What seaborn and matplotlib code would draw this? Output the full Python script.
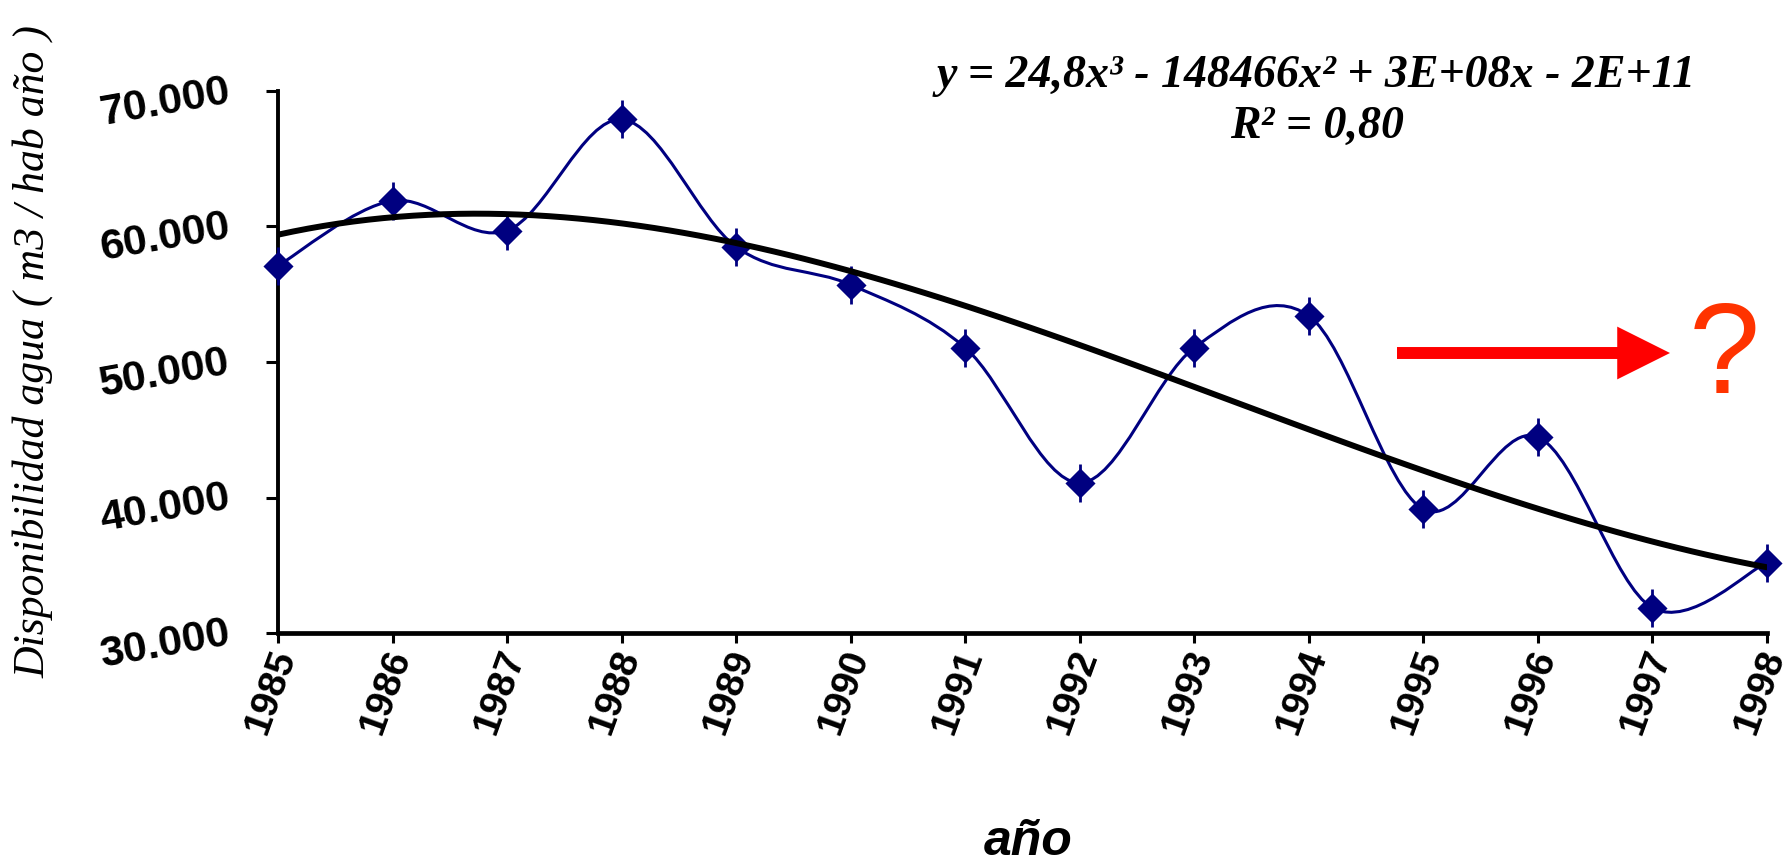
import numpy as np
import pandas as pd
import matplotlib
matplotlib.use("Agg")
import matplotlib.pyplot as plt
import matplotlib.transforms as mtransforms
from matplotlib.path import Path
from matplotlib.patches import PathPatch, FancyArrowPatch
import seaborn as sns

# ---------------- data ----------------
years = [1985, 1986, 1987, 1988, 1989, 1990, 1991, 1992, 1993, 1994, 1995, 1996, 1997, 1998]
disponibilidad = [57100, 61900, 59700, 67900, 58500, 55700, 51050, 41080,
                  51050, 53400, 39130, 44460, 31860, 35200]
yticks = [30000, 40000, 50000, 60000, 70000]
ytick_labels = ["30.000", "40.000", "50.000", "60.000", "70.000"]
xtick_labels = [str(y) for y in years]
equation_text = "y = 24,8x³ - 148466x² + 3E+08x - 2E+11"
r2_text = "R² = 0,80"
ylabel_text = "Disponibilidad agua ( m3 / hab año )"
xlabel_text = "año"

df = pd.DataFrame({"pos": np.arange(len(years)), "valor": disponibilidad})

# ---------------- style ----------------
sns.set_style("white")
plt.rcParams["font.family"] = ["Liberation Sans", "DejaVu Sans"]
plt.rcParams["text.color"] = "black"
plt.rcParams["axes.labelcolor"] = "black"
plt.rcParams["xtick.color"] = "black"
plt.rcParams["ytick.color"] = "black"

W, H = 1792, 865
fig = plt.figure(figsize=(W / 100, H / 100), dpi=100)
L, R, T, B = 278, 1767, 91, 633
ax = fig.add_axes([L / W, 1 - B / H, (R - L) / W, (B - T) / H])

NAVY = "#000080"

# smoothed line (Excel-style Catmull-Rom bezier through the points)
pts = np.column_stack([df["pos"].to_numpy(float), df["valor"].to_numpy(float)])
ext = np.vstack([pts[0], pts, pts[-1]])
verts = [tuple(pts[0])]
codes = [Path.MOVETO]
for i in range(len(pts) - 1):
    p0, p1, p2, p3 = ext[i], ext[i + 1], ext[i + 2], ext[i + 3]
    c1 = p1 + (p2 - p0) / 6.0
    c2 = p2 - (p3 - p1) / 6.0
    verts += [tuple(c1), tuple(c2), tuple(p2)]
    codes += [Path.CURVE4] * 3
ax.add_patch(PathPatch(Path(verts, codes), fill=False, edgecolor=NAVY, lw=2.2,
                       zorder=2, clip_on=False))

# markers
sns.scatterplot(data=df, x="pos", y="valor", marker="D", s=235, color=NAVY,
                edgecolor=NAVY, linewidth=0, zorder=3, ax=ax, clip_on=False, legend=False)
sns.scatterplot(data=df, x="pos", y="valor", marker="|", s=720, color=NAVY,
                linewidth=2.0, zorder=3, ax=ax, clip_on=False, legend=False)

# polynomial (order 3) trend line
sns.regplot(data=df, x="pos", y="valor", order=3, ci=None, scatter=False,
            truncate=True, ax=ax, line_kws=dict(color="black", lw=4.3, zorder=4))

# ---------------- axes ----------------
ax.set_xlim(0, len(years) - 1)
ax.set_ylim(yticks[0], yticks[-1])
for s in ["top", "right"]:
    ax.spines[s].set_visible(False)
ax.spines["left"].set_linewidth(2.8)
ax.spines["bottom"].set_linewidth(3.4)
ax.spines["left"].set_color("black")
ax.spines["bottom"].set_color("black")

ax.set_yticks(yticks)
ax.set_yticklabels(ytick_labels, rotation=10, ha="right", va="center",
                   rotation_mode="anchor", fontsize=31, fontweight="bold")
ax.set_xticks(df["pos"])
ax.set_xticklabels(xtick_labels, rotation=70, ha="right", va="center",
                   rotation_mode="anchor", fontsize=28, fontweight="bold")
ax.tick_params(axis="y", direction="out", length=9, width=2.2, pad=26, color="black",
               left=True)
ax.tick_params(axis="x", direction="out", length=7, width=2.2, pad=6, color="black",
               bottom=True)
offset = mtransforms.ScaledTranslation(8 / 100, 0, fig.dpi_scale_trans)
for lab in ax.get_xticklabels():
    lab.set_transform(lab.get_transform() + offset)

ax.set_xlabel(xlabel_text, fontsize=36, fontweight="bold", fontstyle="italic",
              va="baseline", ha="center")
ax.xaxis.set_label_coords((1028 - L) / (R - L), (B - 855) / (B - T))
ax.set_ylabel(ylabel_text, fontsize=31.5, fontstyle="italic",
              family=["Liberation Serif", "DejaVu Serif"], va="center", ha="center")
ax.yaxis.set_label_coords((33 - L) / (R - L), (B - 352) / (B - T))

# equation
ax.text((1316 - L) / (R - L), (B - 87) / (B - T), equation_text, transform=ax.transAxes,
        ha="center", va="baseline", fontsize=33, fontweight="bold", fontstyle="italic",
        family=["Liberation Serif", "DejaVu Serif"])
ax.text((1317 - L) / (R - L), (B - 138) / (B - T), r2_text, transform=ax.transAxes,
        ha="center", va="baseline", fontsize=33, fontweight="bold", fontstyle="italic",
        family=["Liberation Serif", "DejaVu Serif"])

# red arrow and question mark
arrow = FancyArrowPatch(posA=((1397 - L) / (R - L), (B - 353) / (B - T)),
                        posB=((1670 - L) / (R - L), (B - 353) / (B - T)),
                        transform=ax.transAxes,
                        arrowstyle="simple,head_length=3.8,head_width=3.8,tail_width=0.86",
                        mutation_scale=10, color="#FF0000", lw=0, clip_on=False,
                        shrinkA=0, shrinkB=0)
ax.add_patch(arrow)
ax.text((1724 - L) / (R - L), (B - 393) / (B - T), "?", transform=ax.transAxes,
        ha="center", va="baseline", fontsize=92, color="#FF3300")

fig.savefig("out.png", dpi=100)
